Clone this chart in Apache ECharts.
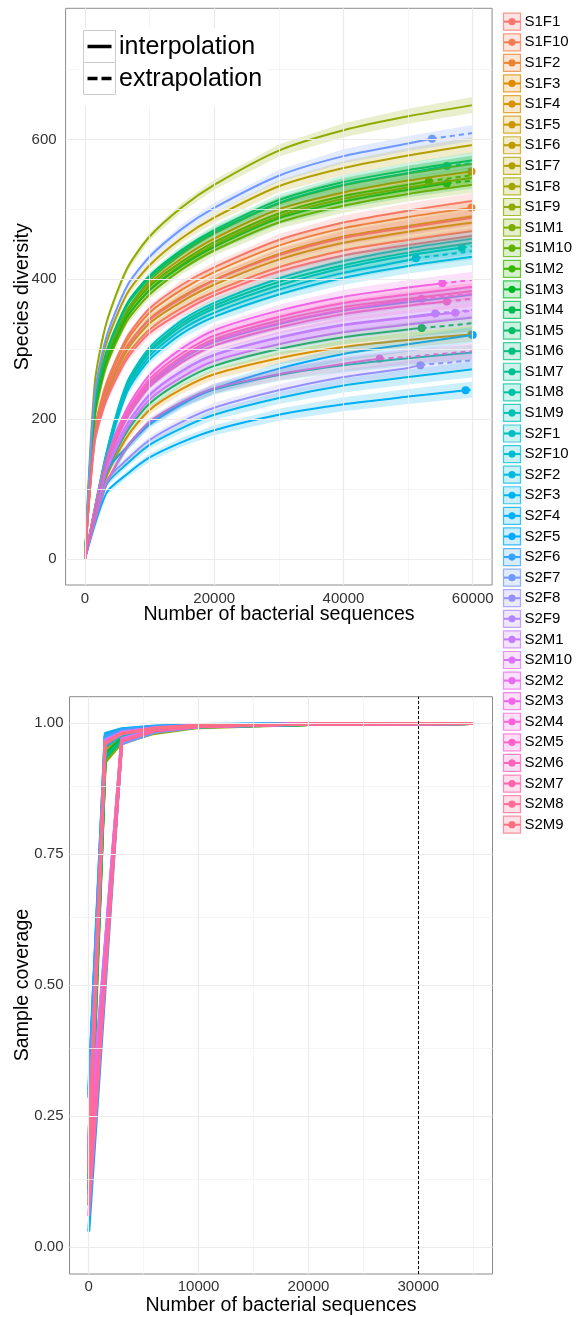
<!DOCTYPE html>
<html><head><meta charset="utf-8">
<script src="https://cdn.jsdelivr.net/npm/echarts@6.0.0/dist/echarts.min.js"></script>
<style>html,body{margin:0;padding:0;background:#fff}#c{width:577px;height:1317px}</style>
</head><body><div id="c"></div>
<script>
// ---------------- DATA ----------------
const samples = ['S1F1','S1F10','S1F2','S1F3','S1F4','S1F5','S1F6','S1F7','S1F8','S1F9',
  'S1M1','S1M10','S1M2','S1M3','S1M4','S1M5','S1M6','S1M7','S1M8','S1M9',
  'S2F1','S2F10','S2F2','S2F3','S2F4','S2F5','S2F6','S2F7','S2F8','S2F9',
  'S2M1','S2M10','S2M2','S2M3','S2M4','S2M5','S2M6','S2M7','S2M8','S2M9'];

// species diversity knots (number of sequences)
const divKnots = [0, 1500, 3300, 6500, 10000, 15000, 20000, 30000, 40000, 50000, 60000];
const dS1F1  = [0, 184, 251, 317, 358, 392, 417, 456, 481, 498, 512];
const dS1F10 = [0, 169, 230, 291, 328, 359, 382, 417, 441, 456, 469];
const dS1F2  = [0, 181, 246, 312, 352, 385, 410, 448, 473, 489, 503];
const dS1F3  = [0, 214, 289, 355, 394, 430, 458, 500, 524, 541, 555];
const dS1F4  = [0, null, 116, 174, 213, 243, 264, 287, 303, 313, 322];
const dS1F5  = [0, 176, 240, 304, 343, 375, 399, 436, 461, 476, 490];
const dS1F6  = [0, 173, 236, 298, 337, 368, 392, 428, 452, 468, 481];
const dS1F7  = [0, 228, 308, 379, 420, 459, 488, 533, 559, 577, 592];
const dS1F8  = [0, 205, 280, 345, 385, 421, 449, 490, 515, 531, 545];
const dS1F9  = [0, 250, 337, 415, 461, 503, 535, 584, 613, 633, 649];
const dS1M1  = [0, 200, 275, 340, 378, 414, 441, 481, 505, 522, 535];
const dS1M10 = [0, 205, 285, 355, 398, 436, 465, 508, 534, 551, 565];
const dS1M2  = [0, 211, 285, 351, 390, 425, 453, 494, 519, 535, 549];
const dS1M3  = [0, 208, 281, 346, 384, 419, 446, 487, 511, 528, 541];
const dS1M4  = [0, null, 121, 182, 222, 254, 276, 300, 317, 328, 337];
const dS1M5  = [0, 219, 296, 365, 405, 442, 470, 513, 539, 556, 570];
const dS1M6  = [0, 218, 294, 362, 402, 439, 467, 509, 535, 552, 566];
const dS1M7  = [0, null, 149, 249, 298, 337, 362, 396, 420, 438, 452];
const dS1M8  = [0, null, 106, 159, 195, 223, 242, 263, 277, 287, 295];
const dS1M9  = [0, null, 148, 246, 295, 333, 358, 391, 416, 434, 447];
const dS2F1  = [0, null, 151, 252, 302, 341, 366, 401, 426, 444, 458];
const dS2F10 = [0, null, 145, 242, 290, 328, 352, 385, 409, 427, 440];
const dS2F2  = [0, null, 143, 238, 285, 322, 346, 378, 402, 419, 432];
const dS2F3  = [0, null, 106, 136, 163, 187, 206, 230, 248, 260, 271];
const dS2F4  = [0, null, 94, 121, 145, 167, 184, 206, 221, 232, 242];
const dS2F5  = [0, null, 125, 160, 192, 221, 243, 272, 293, 307, 320];
const dS2F6  = [0, null, 136, 204, 249, 285, 310, 336, 355, 367, 378];
const dS2F7  = [0, 234, 317, 390, 432, 472, 502, 548, 576, 594, 609];
const dS2F8  = [0, null, 111, 142, 170, 196, 216, 241, 260, 273, 284];
const dS2F9  = [0, null, 128, 192, 235, 269, 292, 317, 335, 346, 356];
const dS2M1  = [0, null, 128, 192, 234, 268, 291, 316, 334, 345, 355];
const dS2M10 = [0, null, 124, 186, 228, 260, 283, 307, 324, 335, 345];
const dS2M2  = [0, null, 136, 205, 250, 286, 311, 337, 356, 370, 379];
const dS2M3  = [0, null, 144, 215, 263, 301, 327, 355, 375, 388, 399];
const dS2M4  = [0, null, 107, 160, 196, 224, 244, 264, 279, 289, 297];
const dS2M5  = [0, null, 140, 210, 257, 294, 319, 346, 366, 378, 389];
const dS2M6  = [0, null, 134, 201, 246, 281, 305, 331, 350, 362, 372];
const dS2M7  = [0, null, 138, 207, 253, 289, 314, 341, 360, 372, 383];
const dS2M8  = [0, 176, 239, 303, 342, 373, 398, 434, 459, 474, 488];
const dS2M9  = [0, 166, 226, 286, 323, 353, 377, 411, 434, 449, 462];

// observed sample (reference point); null = beyond 60000
const obsSize = [null, null, 59800, 59800, 59800, null, null, null, null, null,
  null, null, 53200, 56000, 52100, null, 56000, null, null, 58300,
  null, 51200, null, null, 58900, 60000, null, 53700, 51900, 54200,
  57300, null, 52100, 55300, 45600, null, 56000, null, null, null];
const obsDiv = [null, null, 502, 554, 321, null, null, null, null, null,
  null, null, 540, 537, 330, null, 562, null, null, 445,
  null, 430, null, null, 241, 320, null, 601, 277, 351,
  352, null, 372, 394, 286, null, 368, null, null, null];

// sample coverage knots
const covKnots = [0, 1500, 3000, 6000, 10000, 20000, 35000];
const cS1F1  = [0.15, 0.955, 0.978, 0.990, 0.995, 0.998, 0.999];
const cS1F10 = [0.16, 0.958, 0.979, 0.990, 0.995, 0.998, 0.999];
const cS1F2  = [0.14, 0.952, 0.976, 0.989, 0.995, 0.998, 0.999];
const cS1F3  = [0.12, null, 0.962, 0.984, 0.993, 0.998, 0.999];
const cS1F4  = [0.18, null, 0.968, 0.987, 0.994, 0.998, 0.999];
const cS1F5  = [0.14, 0.950, 0.975, 0.988, 0.994, 0.998, 0.999];
const cS1F6  = [0.15, 0.952, 0.976, 0.989, 0.995, 0.998, 0.999];
const cS1F7  = [0.10, null, 0.960, 0.982, 0.992, 0.997, 0.999];
const cS1F8  = [0.12, 0.935, 0.968, 0.985, 0.993, 0.997, 0.999];
const cS1F9  = [0.08, 0.925, 0.962, 0.980, 0.991, 0.997, 0.999];
const cS1M1  = [0.12, 0.938, 0.969, 0.985, 0.993, 0.997, 0.999];
const cS1M10 = [0.11, 0.935, 0.967, 0.984, 0.993, 0.997, 0.999];
const cS1M2  = [0.12, 0.940, 0.969, 0.985, 0.993, 0.997, 0.999];
const cS1M3  = [0.13, 0.942, 0.970, 0.985, 0.993, 0.997, 0.999];
const cS1M4  = [0.18, 0.962, 0.980, 0.990, 0.995, 0.998, 0.999];
const cS1M5  = [0.10, 0.932, 0.966, 0.984, 0.992, 0.997, 0.999];
const cS1M6  = [0.11, 0.935, 0.967, 0.984, 0.993, 0.997, 0.999];
const cS1M7  = [0.17, 0.955, 0.977, 0.989, 0.995, 0.998, 0.999];
const cS1M8  = [0.20, 0.965, 0.982, 0.991, 0.996, 0.998, 0.999];
const cS1M9  = [0.17, 0.955, 0.977, 0.989, 0.995, 0.998, 0.999];
const cS2F1  = [0.16, 0.955, 0.977, 0.989, 0.995, 0.998, 0.999];
const cS2F10 = [0.18, 0.956, 0.978, 0.990, 0.995, 0.998, 0.999];
const cS2F2  = [0.17, 0.956, 0.978, 0.990, 0.995, 0.998, 0.999];
const cS2F3  = [0.29, 0.975, 0.987, 0.993, 0.996, 0.999, 0.999];
const cS2F4  = [0.30, 0.980, 0.989, 0.994, 0.997, 0.999, 0.999];
const cS2F5  = [0.03, null, 0.965, 0.986, 0.994, 0.998, 0.999];
const cS2F6  = [0.285, 0.975, 0.987, 0.993, 0.996, 0.999, 0.999];
const cS2F7  = [0.09, null, 0.960, 0.982, 0.992, 0.997, 0.999];
const cS2F8  = [0.20, 0.968, 0.983, 0.991, 0.996, 0.998, 0.999];
const cS2F9  = [0.19, null, 0.970, 0.987, 0.994, 0.998, 0.999];
const cS2M1  = [0.18, null, 0.970, 0.987, 0.994, 0.998, 0.999];
const cS2M10 = [0.20, 0.966, 0.982, 0.991, 0.996, 0.998, 0.999];
const cS2M2  = [0.16, null, 0.968, 0.986, 0.994, 0.998, 0.999];
const cS2M3  = [0.10, null, 0.966, 0.985, 0.993, 0.998, 0.999];
const cS2M4  = [0.19, 0.964, 0.981, 0.990, 0.995, 0.998, 0.999];
const cS2M5  = [0.12, null, 0.967, 0.985, 0.993, 0.998, 0.999];
const cS2M6  = [0.06, null, 0.967, 0.985, 0.993, 0.998, 0.999];
const cS2M7  = [0.14, 0.960, 0.979, 0.990, 0.995, 0.998, 0.999];
const cS2M8  = [0.08, null, 0.965, 0.985, 0.993, 0.998, 0.999];
const cS2M9  = [0.16, 0.962, 0.980, 0.990, 0.995, 0.998, 0.999];

// ticks / gridlines
const divXTicks = [0, 20000, 40000, 60000];
const divXMinor = [10000, 30000, 50000];
const divYTicks = [0, 200, 400, 600];
const divYMinor = [100, 300, 500, 700];
const covXTicks = [0, 10000, 20000, 30000];
const covXMinor = [5000, 15000, 25000, 35000];
const covYTicks = [0, 0.25, 0.5, 0.75, 1];
const covYMinor = [0.125, 0.375, 0.625, 0.875];
const covRefLine = [30000];

// ---------------- TABLES ----------------
const divValues = [dS1F1,dS1F10,dS1F2,dS1F3,dS1F4,dS1F5,dS1F6,dS1F7,dS1F8,dS1F9,
  dS1M1,dS1M10,dS1M2,dS1M3,dS1M4,dS1M5,dS1M6,dS1M7,dS1M8,dS1M9,
  dS2F1,dS2F10,dS2F2,dS2F3,dS2F4,dS2F5,dS2F6,dS2F7,dS2F8,dS2F9,
  dS2M1,dS2M10,dS2M2,dS2M3,dS2M4,dS2M5,dS2M6,dS2M7,dS2M8,dS2M9];
const covValues = [cS1F1,cS1F10,cS1F2,cS1F3,cS1F4,cS1F5,cS1F6,cS1F7,cS1F8,cS1F9,
  cS1M1,cS1M10,cS1M2,cS1M3,cS1M4,cS1M5,cS1M6,cS1M7,cS1M8,cS1M9,
  cS2F1,cS2F10,cS2F2,cS2F3,cS2F4,cS2F5,cS2F6,cS2F7,cS2F8,cS2F9,
  cS2M1,cS2M10,cS2M2,cS2M3,cS2M4,cS2M5,cS2M6,cS2M7,cS2M8,cS2M9];

// ---------------- STYLE ----------------
const FONT = '"Liberation Sans", Arial, Helvetica, sans-serif';
const ribbonHalfPx = [0, 1.5, 2.5, 3.5, 4, 4.5, 5, 6, 7, 7.5, 8]; // per knot, pixels

function hcl(h, c, l) {
  const WX = 95.047, WY = 100.0, WZ = 108.883;
  const hr = h * Math.PI / 180;
  const U = c * Math.cos(hr), V = c * Math.sin(hr);
  const Y = WY * (l > 7.999592 ? Math.pow((l + 16) / 116, 3) : l / 903.3);
  const t = WX + WY + WZ, x = WX / t, y = WY / t;
  const uN = 2 * x / (6 * y - x + 1.5), vN = 4.5 * y / (6 * y - x + 1.5);
  const u = U / (13 * l) + uN, v = V / (13 * l) + vN;
  const X = 9.0 * Y * u / (4 * v);
  const Z = -X / 3 - 5 * Y + 3 * Y / v;
  const g = q => q > 0.00304 ? 1.055 * Math.pow(q, 1 / 2.4) - 0.055 : 12.92 * q;
  const r = g((3.240479 * X - 1.537150 * Y - 0.498535 * Z) / WY);
  const gg = g((-0.969256 * X + 1.875992 * Y + 0.041556 * Z) / WY);
  const b = g((0.055648 * X - 0.204043 * Y + 1.057311 * Z) / WY);
  const cl = q => Math.round(255 * Math.max(0, Math.min(1, q)));
  return [cl(r), cl(gg), cl(b)];
}
const rgb = samples.map((_, i) => hcl(15 + 9 * i, 100, 65));
const col = (i, a) => a === undefined ? `rgb(${rgb[i].join(',')})` : `rgba(${rgb[i].join(',')},${a})`;

// ---------------- SERIES ----------------
const series = [];
const major = { color: '#ebebeb', width: 1.2, type: 'solid' };
const minor = { color: '#f3f3f3', width: 0.8, type: 'solid' };
function gridSeries(xi, xs, xm, ys, ym) {
  return {
    type: 'line', xAxisIndex: xi, yAxisIndex: xi, data: [], z: 0, silent: true,
    markLine: {
      silent: true, symbol: ['none', 'none'], label: { show: false }, animation: false,
      data: [].concat(
        xm.map(v => ({ xAxis: v, lineStyle: minor })),
        ym.map(v => ({ yAxis: v, lineStyle: minor })),
        xs.map(v => ({ xAxis: v, lineStyle: major })),
        ys.map(v => ({ yAxis: v, lineStyle: major })))
    }
  };
}
series.push(gridSeries(0, divXTicks, divXMinor, divYTicks, divYMinor));
series.push(gridSeries(1, covXTicks, covXMinor, covYTicks, covYMinor));

samples.forEach((name, i) => {
  const vals = divValues[i];
  const pts = [];
  vals.forEach((v, k) => { if (v !== null) pts.push([divKnots[k], v, k]); });
  const ox = obsSize[i], oy = obsDiv[i];
  let interp, extrap = null;
  if (ox === null) {
    interp = pts.map(p => [p[0], p[1]]);
  } else {
    interp = pts.filter(p => p[0] < ox).map(p => [p[0], p[1]]).concat([[ox, oy]]);
    extrap = [[ox, oy]].concat(pts.filter(p => p[0] > ox).map(p => [p[0], p[1]]));
  }
  // ribbon
  series.push({
    type: 'custom', name, xAxisIndex: 0, yAxisIndex: 0, z: 4, silent: true,
    data: [[0, 0]],
    renderItem: (params, api) => {
      const cs = pts.map(p => { const c = api.coord([p[0], p[1]]); return [c[0], c[1], ribbonHalfPx[p[2]]]; });
      const up = cs.map(c => [c[0], c[1] - c[2]]);
      const lo = cs.map(c => [c[0], c[1] + c[2]]).reverse();
      return { type: 'polygon', shape: { points: up.concat(lo), smooth: 0 }, style: { fill: col(i, 0.2), stroke: null } };
    }
  });
  series.push({
    type: 'line', name, xAxisIndex: 0, yAxisIndex: 0, z: 3, silent: true,
    data: interp, showSymbol: false, smooth: 0.25,
    lineStyle: { color: col(i), width: 2 }, itemStyle: { color: col(i) }
  });
  if (extrap) {
    series.push({
      type: 'line', name, xAxisIndex: 0, yAxisIndex: 0, z: 3, silent: true,
      data: extrap, showSymbol: false, smooth: 0.25,
      lineStyle: { color: col(i), width: 2, type: [5, 4] }, itemStyle: { color: col(i) }
    });
    series.push({
      type: 'scatter', name, xAxisIndex: 0, yAxisIndex: 0, z: 2, silent: true,
      data: [[ox, oy]], symbolSize: 8, itemStyle: { color: col(i), opacity: 1 }
    });
  }
});

samples.forEach((name, i) => {
  const d = [];
  covValues[i].forEach((v, k) => { if (v !== null) d.push([covKnots[k], v]); });
  series.push({
    type: 'line', name, xAxisIndex: 1, yAxisIndex: 1, z: 3, silent: true,
    data: d, showSymbol: false, smooth: false,
    lineStyle: { color: col(i), width: 3 }, itemStyle: { color: col(i) }
  });
});

series.push({
  type: 'line', xAxisIndex: 1, yAxisIndex: 1, data: [], z: 6, silent: true,
  markLine: {
    silent: true, symbol: ['none', 'none'], label: { show: false }, animation: false,
    data: covRefLine.map(v => ({ xAxis: v })),
    lineStyle: { color: '#000', width: 1, type: [3, 2] }
  }
});

// ---------------- GRAPHICS (titles, legends) ----------------
const g = [];
function txt(text, x, y, size, opts) {
  return Object.assign({
    type: 'text', x, y, z: 100, silent: true,
    style: { text, fontSize: size, fontFamily: FONT, fill: '#000',
      textAlign: 'center', textVerticalAlign: 'middle', align: 'center', verticalAlign: 'middle' }
  }, opts || {});
}
g.push(txt('Number of bacterial sequences', 279, 615, 19.6));
g.push(txt('Number of bacterial sequences', 281, 1305.5, 19.6));
g.push(txt('Species diversity', 22.5, 296.7, 19.6, { rotation: Math.PI / 2 }));
g.push(txt('Sample coverage', 22.5, 985, 19.6, { rotation: Math.PI / 2 }));

// inset linetype legend
g.push({ type: 'rect', z: 90, silent: true, shape: { x: 79, y: 28, width: 188, height: 78 }, style: { fill: '#fff' } });
g.push({ type: 'rect', z: 91, silent: true, shape: { x: 83.5, y: 30.5, width: 32, height: 32 }, style: { fill: '#fff', stroke: '#cccccc', lineWidth: 1 } });
g.push({ type: 'rect', z: 91, silent: true, shape: { x: 83.5, y: 62.5, width: 32, height: 32 }, style: { fill: '#fff', stroke: '#cccccc', lineWidth: 1 } });
g.push({ type: 'line', z: 92, silent: true, shape: { x1: 87.5, y1: 46.5, x2: 111.5, y2: 46.5 }, style: { stroke: '#000', lineWidth: 3.5 } });
g.push({ type: 'line', z: 92, silent: true, shape: { x1: 87.5, y1: 78.5, x2: 97.5, y2: 78.5 }, style: { stroke: '#000', lineWidth: 3.5 } });
g.push({ type: 'line', z: 92, silent: true, shape: { x1: 101.5, y1: 78.5, x2: 111.5, y2: 78.5 }, style: { stroke: '#000', lineWidth: 3.5 } });
g.push(txt('interpolation', 119, 47, 25, { style: { text: 'interpolation', fontSize: 25, fontFamily: FONT, fill: '#000', textAlign: 'left', align: 'left', textVerticalAlign: 'middle', verticalAlign: 'middle' } }));
g.push(txt('extrapolation', 119, 79, 25, { style: { text: 'extrapolation', fontSize: 25, fontFamily: FONT, fill: '#000', textAlign: 'left', align: 'left', textVerticalAlign: 'middle', verticalAlign: 'middle' } }));

// sample legend
samples.forEach((name, i) => {
  const cy = 21.7 + i * 20.59;
  g.push({ type: 'rect', z: 90, silent: true, shape: { x: 503.5, y: cy - 8.5, width: 17, height: 17 },
    style: { fill: col(i, 0.2), stroke: col(i, 0.75), lineWidth: 1.2 } });
  g.push({ type: 'line', z: 91, silent: true, shape: { x1: 504, y1: cy, x2: 520.5, y2: cy },
    style: { stroke: col(i), lineWidth: 2 } });
  g.push({ type: 'circle', z: 92, silent: true, shape: { cx: 512, cy: cy, r: 3.6 },
    style: { fill: col(i) } });
  g.push({ type: 'text', z: 92, silent: true, x: 524.5, y: cy,
    style: { text: name, fontSize: 15, fontFamily: FONT, fill: '#000',
      textAlign: 'left', align: 'left', textVerticalAlign: 'middle', verticalAlign: 'middle' } });
});

// ---------------- AXES ----------------
const labelStyle = { fontSize: 15, fontFamily: FONT, color: '#333' };
function xAx(gi, min, max, ticks, margin) {
  return {
    type: 'value', gridIndex: gi, min, max,
    axisLine: { show: false }, splitLine: { show: false },
    axisTick: { show: true, customValues: ticks, length: 3, lineStyle: { color: '#333', width: 1 } },
    axisLabel: Object.assign({ customValues: ticks, margin, formatter: v => String(v) }, labelStyle)
  };
}
function yAx(gi, min, max, ticks, margin, fmt) {
  return {
    type: 'value', gridIndex: gi, min, max,
    axisLine: { show: false }, splitLine: { show: false },
    axisTick: { show: true, customValues: ticks, length: 3, lineStyle: { color: '#333', width: 1 } },
    axisLabel: Object.assign({ customValues: ticks, margin, formatter: fmt }, labelStyle)
  };
}

const chart = echarts.init(document.getElementById('c'), null, { renderer: 'canvas' });
chart.setOption({
  animation: false,
  backgroundColor: '#fff',
  grid: [
    { left: 65.6, top: 8.3, width: 426.5, height: 576.7, show: true, borderColor: '#8c8c8c', borderWidth: 1, backgroundColor: 'transparent' },
    { left: 69.5, top: 696.7, width: 423, height: 577.3, show: true, borderColor: '#8c8c8c', borderWidth: 1, backgroundColor: 'transparent' }
  ],
  xAxis: [
    xAx(0, -3000, 63000, divXTicks, 6),
    xAx(1, -1750, 36750, covXTicks, 5)
  ],
  yAxis: [
    yAx(0, -37.5, 787.5, divYTicks, 9, v => String(v)),
    yAx(1, -0.051, 1.050, covYTicks, 6, v => v.toFixed(2))
  ],
  series,
  graphic: { elements: g }
});
</script></body></html>
